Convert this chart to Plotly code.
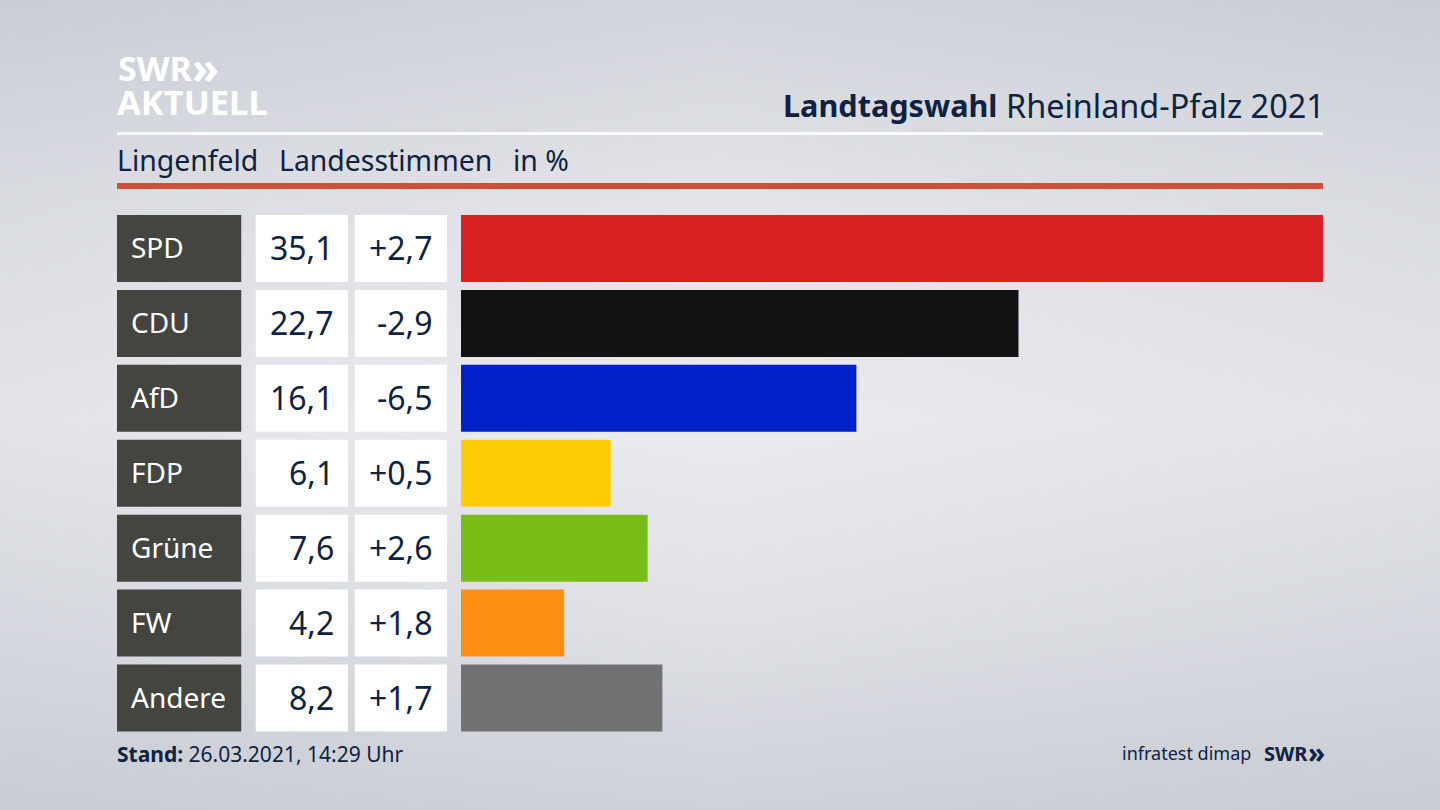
#!/usr/bin/env python3
"""Landtagswahl Rheinland-Pfalz 2021, Lingenfeld: Landesstimmen in %."""

import plotly.graph_objects as go

WIDTH = 1440
HEIGHT = 810

# Chart data
parties = ["SPD", "CDU", "AfD", "FDP", "Grüne", "FW", "Andere"]
shares = [35.1, 22.7, 16.1, 6.1, 7.6, 4.2, 8.2]
share_labels = ["35,1", "22,7", "16,1", "6,1", "7,6", "4,2", "8,2"]
change_labels = ["+2,7", "-2,9", "-6,5", "+0,5", "+2,6", "+1,8", "+1,7"]
party_colors = ["#d7201f", "#121212", "#0021c7", "#ffcd08", "#7abd19", "#ff8f14", "#717274"]

# Background shading
bg_x = [0, 720, 1440]
bg_y = [0, 200, 420, 620, 810]
bg_z = [
    ["#c9ccd4", "#d2d5db", "#c9ccd4"],
    ["#d9dbe1", "#e2e3e8", "#d9dbe1"],
    ["#e2e4e9", "#ebecf0", "#e2e4e9"],
    ["#d6d9df", "#dfe1e6", "#d6d9df"],
    ["#c8ccd3", "#ced2d8", "#c8ccd3"],
]

NAVY = "#0f2240"
FONT = "Noto Sans"
ROW_PAD = 0.894


def hex_value(color):
    return int(color[1:3], 16)


def px_x(x):
    return x / WIDTH


def px_y(y):
    return 1 - y / HEIGHT


def label(x, y, text, size, anchor="left", color=NAVY):
    """Header/footer text placed in pixel terms."""
    return dict(
        x=px_x(x), y=px_y(y), xref="paper", yref="paper", text=text, showarrow=False,
        xanchor=anchor, yanchor="middle", align=anchor,
        font=dict(family=FONT, size=size, color=color),
    )


def cell_text(axis, x, party, text, size, anchor, color):
    """Text inside a table cell, on that column's own axes."""
    return dict(
        x=x, y=party, xref=f"x{axis}", yref=f"y{axis}", text=text, showarrow=False,
        xanchor=anchor, yanchor="middle", yshift=1,
        font=dict(family=FONT, size=size, color=color),
    )


def rule(y0, y1, color):
    return dict(
        type="rect", xref="paper", yref="paper", x0=px_x(117), x1=px_x(1323),
        y0=px_y(y0), y1=px_y(y1), fillcolor=color, line_width=0, layer="above",
    )


fig = go.Figure()

# Background
grey_levels = [[hex_value(c) for c in row] for row in bg_z]
fig.add_trace(go.Heatmap(
    x=bg_x, y=bg_y, z=grey_levels, zsmooth="best", showscale=False, hoverinfo="skip",
    colorscale=[[0, "#c8ccd3"], [1, "#ebecf0"]], xaxis="x", yaxis="y",
))

# Table columns, each one a full-width bar on its own axis
fig.add_trace(go.Bar(
    y=parties, x=[1] * len(parties), orientation="h", width=ROW_PAD,
    marker=dict(color="#444440", line_width=0), xaxis="x2", yaxis="y2", hoverinfo="skip",
))
fig.add_trace(go.Bar(
    y=parties, x=[1] * len(parties), orientation="h", width=ROW_PAD,
    marker=dict(color="#ffffff", line_width=0), xaxis="x3", yaxis="y3", hoverinfo="skip",
))
fig.add_trace(go.Bar(
    y=parties, x=[1] * len(parties), orientation="h", width=ROW_PAD,
    marker=dict(color="#ffffff", line_width=0), xaxis="x4", yaxis="y4", hoverinfo="skip",
))

# Result bars
fig.add_trace(go.Bar(
    y=parties, x=shares, orientation="h", width=ROW_PAD,
    marker=dict(color=party_colors, line_width=0), xaxis="x5", yaxis="y5",
    hovertemplate="%{y}: %{x}<extra></extra>",
))

row_domain = [px_y(735.5), px_y(211)]
hidden = dict(visible=False, fixedrange=True)
cat_axis = dict(
    visible=False, fixedrange=True, type="category", categoryorder="array",
    categoryarray=parties, autorange="reversed", domain=row_domain,
)


def column_axis(left, right, top=1):
    return dict(hidden, domain=[px_x(left), px_x(right)], range=[0, top])


annotations = [
    label(116, 68, "<b>SWR</b>", 34, color="#ffffff"),
    label(190, 67, "<b>»</b>", 44, color="#ffffff"),
    label(115, 102, "<b>AKTUELL</b>", 34.5, color="#ffffff"),
    label(999, 105, "<b>Landtagswahl</b>", 30.6, anchor="right"),
    label(1327, 105, "Rheinland-Pfalz 2021", 32.4, anchor="right"),
    label(115, 160, "Lingenfeld", 28.4),
    label(277, 160, "Landesstimmen", 28.4),
    label(511, 160, "in %", 28.4),
    label(115, 754, "<b>Stand:</b> 26.03.2021, 14:29 Uhr", 21),
    label(1253, 753, "infratest dimap", 18, anchor="right"),
    label(1262, 753, "<b>SWR</b>", 20),
    label(1306, 752, "<b>»</b>", 28),
]
for party, share, change in zip(parties, share_labels, change_labels):
    annotations.append(cell_text(2, 0.097, party, party, 28, "left", "#ffffff"))
    annotations.append(cell_text(3, 0.872, party, share, 32, "right", NAVY))
    annotations.append(cell_text(4, 0.872, party, change, 32, "right", NAVY))

fig.update_layout(
    width=WIDTH, height=HEIGHT,
    margin=dict(l=0, r=0, t=0, b=0),
    autosize=False,
    showlegend=False,
    barmode="overlay",
    paper_bgcolor="#dfe1e6",
    plot_bgcolor="rgba(0,0,0,0)",
    xaxis=dict(hidden, domain=[0, 1], range=[0, WIDTH]),
    yaxis=dict(hidden, domain=[0, 1], range=[HEIGHT, 0]),
    xaxis2=dict(column_axis(117, 241.5), anchor="y2"),
    yaxis2=dict(cat_axis, anchor="x2"),
    xaxis3=dict(column_axis(255.5, 348), anchor="y3"),
    yaxis3=dict(cat_axis, anchor="x3"),
    xaxis4=dict(column_axis(354.5, 447), anchor="y4"),
    yaxis4=dict(cat_axis, anchor="x4"),
    xaxis5=dict(column_axis(461, 1323, max(shares)), anchor="y5"),
    yaxis5=dict(cat_axis, anchor="x5"),
    shapes=[rule(132, 135, "#ffffff"), rule(183, 189, "#cf4f38")],
    annotations=annotations,
)

# The page's default body margin would push the figure off the window
fig.write_html(
    "out.html",
    config=dict(displayModeBar=False),
    post_script="document.body.style.margin='0';document.body.style.overflow='hidden';",
)
